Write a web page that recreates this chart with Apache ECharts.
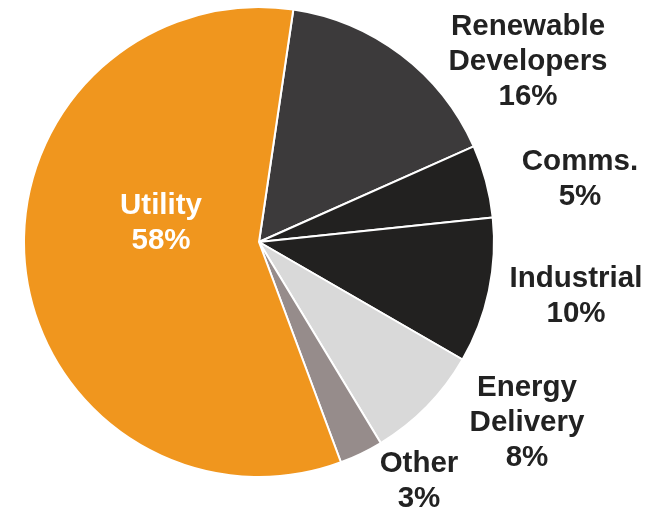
<!DOCTYPE html>
<html>
<head>
<meta charset="utf-8">
<script src="https://cdn.jsdelivr.net/npm/echarts@6/dist/echarts.min.js"></script>
<style>
  html, body { margin: 0; padding: 0; background: #fff; }
  #pie { width: 648px; height: 512px; }
</style>
</head>
<body>
<div id="pie"></div>
<script>
var segments = ['Renewable\nDevelopers', 'Comms.', 'Industrial', 'Energy\nDelivery', 'Other', 'Utility'];
var shares = [16, 5, 10, 8, 3, 58];
var colors = ['#3c3a3b', '#222120', '#222120', '#d9d9d9', '#968c8b', '#f0961e'];

// where each label block sits (center)
var labelSpots = [[528, 62], [580, 179], [576, 296], [527, 423], [419, 481], [161, 223]];

var pieData = [];
segments.forEach(function (name, i) {
    pieData.push({
        name: name,
        value: shares[i],
        itemStyle: {color: colors[i]},
        label: {color: i === 5 ? '#ffffff' : '#222222'}
    });
});

var myChart = echarts.init(document.getElementById('pie'));
myChart.setOption({
    animation: false,
    series: [
        {
            type: 'pie',
            center: [259, 242],
            radius: 235,
            startAngle: 81.6,
            clockwise: true,
            data: pieData,
            itemStyle: {borderColor: '#ffffff', borderWidth: 2},
            label: {
                show: true,
                position: 'inside',
                formatter: function (p) { return p.name + '\n' + p.value + '%'; },
                fontFamily: 'Liberation Sans, Arial, sans-serif',
                fontWeight: 'bold',
                fontSize: 29.5,
                lineHeight: 35,
                align: 'center'
            },
            labelLine: {show: false},
            labelLayout: function (p) {
                var s = labelSpots[p.dataIndex];
                return {x: s[0], y: s[1], align: 'center', verticalAlign: 'middle'};
            },
            emphasis: {disabled: true}
        }
    ]
});
</script>
</body>
</html>
